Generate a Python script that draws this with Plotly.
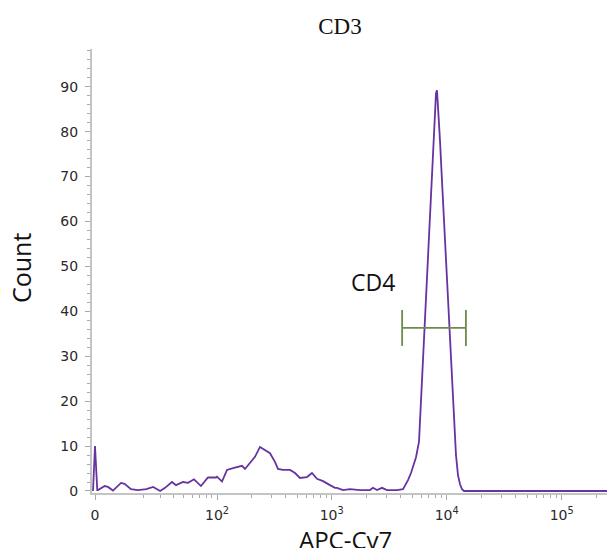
import numpy as np
import plotly.graph_objects as go

# APC-Cy7 intensity values and event counts
apc_values = [-0.7, 0, 0.8, 1.05, 3.42, 4.6, 6.45, 9.53, 11.0, 13.7, 17.0, 21.3, 25.3,
              29.9, 33.4, 39.0, 42.6, 49.5, 55.0, 62.3, 72.0, 83.1, 97.9, 99.9, 110.6,
              122.3, 138.2, 165.6, 176, 194.5, 215, 237.8, 263, 290.6, 321, 341, 377,
              434, 480, 530, 610, 674, 745, 841, 967, 1069, 1113, 1255, 1443, 1763,
              2154, 2288, 2479, 2740, 3028, 3700, 4172, 4430, 4611, 4896, 5097, 5413,
              5748, 5982, 6226, 6479, 6745, 7019, 7306, 7604, 7914, 8075, 8239, 8405,
              8750, 9107, 9480, 9867, 10270, 10690, 11130, 11580, 12050, 12550, 13060,
              13590, 14150, 262144]
counts = [0, 10, 0.2, 0.2, 1.1, 0.9, 0.1, 1.8, 1.6, 0.4, 0.2, 0.4, 0.9,
          0, 0.7, 2.0, 1.3, 2.0, 1.8, 2.6, 1.1, 3.0, 3.0, 3.2, 2.1,
          4.7, 5.1, 5.6, 4.9, 6.2, 7.6, 9.8, 9.1, 8.4, 6.5, 4.9, 4.7,
          4.7, 4.0, 2.9, 3.1, 4.0, 2.7, 2.2, 1.3, 0.7, 0.7, 0.2, 0.4, 0.2,
          0.2, 0.7, 0.2, 0.7, 0.2, 0.2, 0.4, 1.5, 2.4, 4.0, 5.5, 7.5,
          11, 20, 30, 40, 50, 59, 68, 77, 85, 88.5, 89.2, 86,
          78, 69, 60, 51, 42, 33, 25, 16, 8, 3.5, 1.5,
          0.4, 0, 0]

# Gate "CD4"
gate_name = "CD4"
gate_low, gate_high, gate_level = 4100, 14700, 36.3

# Axis ticks
major_tick_values = [0, 100, 1000, 10000, 100000]
major_tick_labels = ["0", "10<sup>2</sup>", "10<sup>3</sup>", "10<sup>4</sup>", "10<sup>5</sup>"]
minor_tick_values = ([m * 10 for m in range(2, 10)] + [m * 100 for m in range(2, 10)] +
                     [m * 1000 for m in range(2, 10)] + [m * 10000 for m in range(2, 10)] +
                     [200000])

W = 8.75  # biexponential-like width


def tx(v):
    return np.arcsinh(np.asarray(v, dtype=float) / (2 * W)) / np.log(10)


purple = "#6633a0"
green = "#6e8b4e"
axis_grey = "#c4c4c4"
font_ticks = dict(family="DejaVu Sans", size=14, color="#2a2a2a")
label_font = "Open Sans"

fig = go.Figure()
fig.add_trace(go.Scatter(x=tx(apc_values), y=counts, mode="lines",
                         line=dict(color=purple, width=1.8), hoverinfo="skip",
                         showlegend=False))

# gate bar
gx0, gx1 = float(tx(gate_low)), float(tx(gate_high))
fig.add_shape(type="line", x0=gx0, x1=gx1, y0=gate_level, y1=gate_level,
              line=dict(color=green, width=1.8))
for gx in (gx0, gx1):
    fig.add_shape(type="line", x0=gx, x1=gx, y0=gate_level - 4, y1=gate_level + 4,
                  line=dict(color=green, width=1.8))
fig.add_annotation(x=float(tx(2300)), y=46.5, text=gate_name, showarrow=False,
                   font=dict(family=label_font, size=23, color="#111111"))

x_left = -3 / 115
x_right = 512 / 115

fig.update_layout(
    width=608, height=548,
    margin=dict(l=92, r=1, t=49, b=55),
    paper_bgcolor="white", plot_bgcolor="white",
    showlegend=False,
    title=dict(text="CD3", x=340 / 608, xanchor="center", y=1 - 26 / 548, yanchor="middle",
               font=dict(family="Liberation Serif", size=23, color="#111111")),
)
fig.update_xaxes(
    range=[x_left, x_right], showgrid=False, zeroline=False,
    showline=True, linecolor=axis_grey, linewidth=2,
    tickmode="array", tickvals=list(tx(major_tick_values)), ticktext=major_tick_labels,
    ticks="outside", ticklen=5, tickcolor="#a8a8a8", tickwidth=1,
    tickfont=font_ticks, ticklabelstandoff=3,
    minor=dict(tickmode="array", tickvals=list(tx(minor_tick_values)), ticks="outside",
               ticklen=3, tickcolor="#a8a8a8", tickwidth=1, showgrid=False),
)
fig.update_yaxes(
    range=[-0.45, 98.4], showgrid=False, zeroline=False,
    showline=True, linecolor=axis_grey, linewidth=2,
    tickmode="array", tickvals=list(range(0, 100, 10)),
    ticks="outside", ticklen=5, tickcolor="#a8a8a8", tickwidth=1,
    tickfont=font_ticks, ticklabelstandoff=4,
    minor=dict(tickmode="array", tickvals=[v for v in range(0, 99, 2) if v % 10], ticks="outside",
               ticklen=3, tickcolor="#a8a8a8", tickwidth=1, showgrid=False),
)

fig.add_annotation(text="APC-Cy7", xref="paper", yref="paper", x=(345 - 92) / 515,
                   y=-(539 - 493) / 444, showarrow=False, yanchor="middle",
                   font=dict(family=label_font, size=24, color="#111111"))
fig.add_annotation(text="Count", xref="paper", yref="paper", x=-(92 - 21) / 515,
                   y=(493 - 268) / 444, showarrow=False, textangle=-90, xanchor="center",
                   yanchor="middle",
                   font=dict(family=label_font, size=25, color="#111111"))

fig.write_html("out.html", config={"displayModeBar": False},
               post_script="document.body.style.margin='0';document.body.style.overflow='hidden';")
